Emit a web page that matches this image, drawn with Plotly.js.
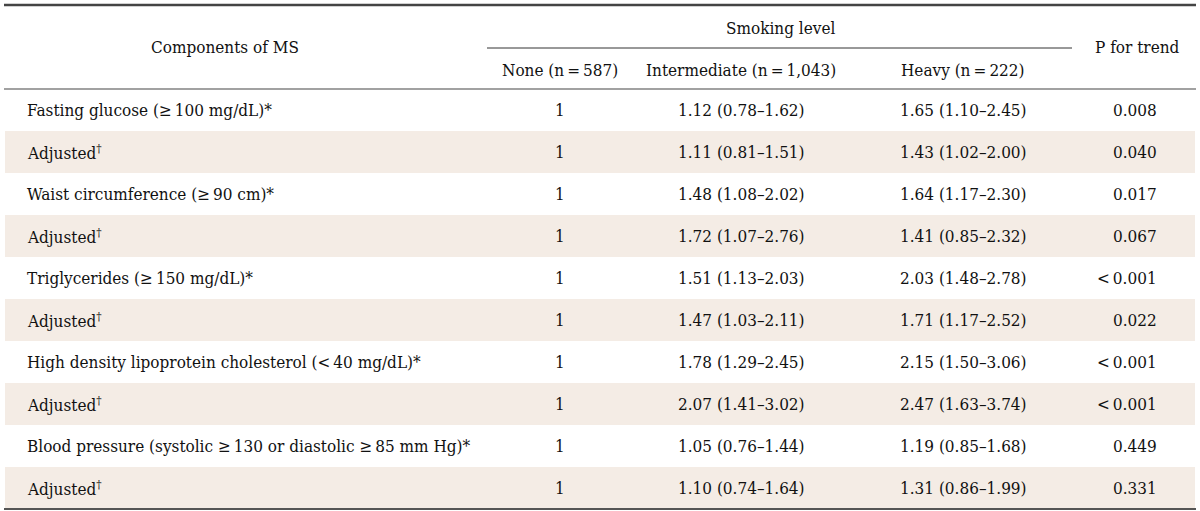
<!DOCTYPE html>
<html>
<head>
<meta charset="utf-8">
<script src="https://cdn.plot.ly/plotly-3.0.1.min.js"></script>
<style>html,body{margin:0;padding:0;background:#fff}#chart{width:1200px;height:511px}</style>
</head>
<body>
<div id="chart"></div>
<script>
// ---- data ----
const components = [
  "Fasting glucose (≥\u2009100 mg/dL)*",
  "Adjusted<sup>†</sup>",
  "Waist circumference (≥\u200990 cm)*",
  "Adjusted<sup>†</sup>",
  "Triglycerides (≥\u2009150 mg/dL)*",
  "Adjusted<sup>†</sup>",
  "High density lipoprotein cholesterol (<\u200940 mg/dL)*",
  "Adjusted<sup>†</sup>",
  "Blood pressure (systolic ≥\u2009130 or diastolic ≥\u200985 mm Hg)*",
  "Adjusted<sup>†</sup>"
];
const noneVals = ["1","1","1","1","1","1","1","1","1","1"];
const intermediateVals = [
  "1.12 (0.78–1.62)","1.11 (0.81–1.51)","1.48 (1.08–2.02)","1.72 (1.07–2.76)",
  "1.51 (1.13–2.03)","1.47 (1.03–2.11)","1.78 (1.29–2.45)","2.07 (1.41–3.02)",
  "1.05 (0.76–1.44)","1.10 (0.74–1.64)"
];
const heavyVals = [
  "1.65 (1.10–2.45)","1.43 (1.02–2.00)","1.64 (1.17–2.30)","1.41 (0.85–2.32)",
  "2.03 (1.48–2.78)","1.71 (1.17–2.52)","2.15 (1.50–3.06)","2.47 (1.63–3.74)",
  "1.19 (0.85–1.68)","1.31 (0.86–1.99)"
];
const pTrend = ["0.008","0.040","0.017","0.067","<\u20090.001","0.022","<\u20090.001","<\u20090.001","0.449","0.331"];
const headerMain = "Components of MS";
const headerGroup = "Smoking level";
const subHeaders = ["None (n\u2009=\u2009587)","Intermediate (n\u2009=\u20091,043)","Heavy (n\u2009=\u2009222)"];
const headerP = "P for trend";

// ---- layout geometry ----
const FONT = "DejaVu Serif Condensed, DejaVu Serif, serif";
const FS = 17;
const TXT = "#111";
const SHADE = "#f4ece5";
const left = 5, right = 1195;
const headTop = 5, headBottom = 89, rowH = 42;
const colX = {label: 25, none: 560, inter: 741, heavy: 963, p: 1159};

const shapes = [];
const annotations = [];
function ann(x, y, text, xanchor) {
  annotations.push({x, y, xref: "x", yref: "y", text, showarrow: false,
    xanchor: xanchor || "center", yanchor: "middle",
    font: {family: FONT, size: FS, color: TXT}});
}

components.forEach((c, i) => {
  const y0 = headBottom + i * rowH;
  const yc = y0 + rowH / 2;
  if (i % 2 === 1) {
    shapes.push({type: "rect", xref: "x", yref: "y", x0: left, x1: right, y0: y0, y1: y0 + rowH,
      fillcolor: SHADE, line: {width: 0}, layer: "below"});
  }
  ann(colX.label, yc, c, "left");
  ann(colX.none, yc, noneVals[i]);
  ann(colX.inter, yc, intermediateVals[i]);
  ann(colX.heavy, yc, heavyVals[i]);
  ann(colX.p, yc, pTrend[i], "right");
});

// header
ann(225, 47, headerMain);
ann(780, 28, headerGroup);
ann(560, 70, subHeaders[0]);
ann(741, 70, subHeaders[1]);
ann(963, 70, subHeaders[2]);
ann(1137, 47, headerP);

const bottom = headBottom + components.length * rowH;
const lineShape = (x0, x1, y, w, col) => ({type: "line", xref: "x", yref: "y", x0, x1, y0: y, y1: y,
  line: {color: col, width: w}});
shapes.push(lineShape(4, 1196, headTop, 2.5, "#444"));
shapes.push(lineShape(487, 1072, 48, 1, "#333"));
shapes.push(lineShape(4, 1196, headBottom, 1.2, "#444"));
shapes.push(lineShape(4, 1196, bottom, 2, "#555"));

const layout = {
  width: 1200, height: 511,
  margin: {l: 0, r: 0, t: 0, b: 0},
  paper_bgcolor: "#fff", plot_bgcolor: "#fff",
  xaxis: {range: [0, 1200], visible: false, fixedrange: true},
  yaxis: {range: [511, 0], visible: false, fixedrange: true},
  shapes, annotations, showlegend: false
};
Plotly.newPlot("chart", [{x: [], y: [], type: "scatter", mode: "markers", hoverinfo: "skip"}], layout,
  {displayModeBar: false, staticPlot: true});
</script>
</body>
</html>
